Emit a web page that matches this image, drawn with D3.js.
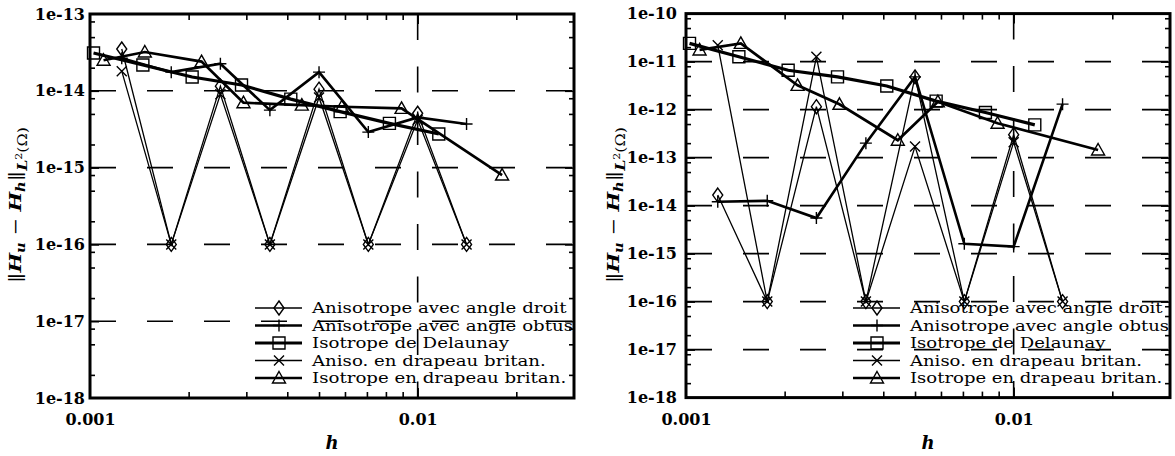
<!DOCTYPE html>
<html>
<head>
<meta charset="utf-8">
<script src="https://cdn.jsdelivr.net/npm/d3@7"></script>
<style>
  body { margin: 0; background: #fff; }
  svg { display: block; }
</style>
</head>
<body>
<svg id="fig" width="1175" height="456"></svg>
<script>
// Mesh sizes h for each family of meshes
const hAniso      = [0.00125, 0.00177, 0.0025, 0.00354, 0.005, 0.00707, 0.01, 0.0141];
const hDelaunay   = [0.001025, 0.00145, 0.00205, 0.0029, 0.0041, 0.0058, 0.0082, 0.0116];
const hBritanIso  = [0.0011, 0.00147, 0.00219, 0.00294, 0.00443, 0.00587, 0.00893, 0.0181];

// Left panel: error norms
const leftDroit      = [3.5e-14, 1e-16, 1.15e-14, 1e-16, 1.05e-14, 1e-16, 5.1e-15, 1e-16];
const leftObtus      = [2.65e-14, 1.75e-14, 2.25e-14, 5.6e-15, 1.75e-14, 2.9e-15, 4.5e-15, 3.7e-15];
const leftDelaunay   = [3.1e-14, 2.17e-14, 1.51e-14, 1.19e-14, 7.8e-15, 5.35e-15, 3.77e-15, 2.74e-15];
const leftBritanAni  = [1.8e-14, 1e-16, 9e-15, 1e-16, 8.2e-15, 1e-16, 4.2e-15, 1e-16];
const leftBritanIso  = [2.5e-14, 3.2e-14, 2.4e-14, 7.0e-15, 6.5e-15, 6.2e-15, 5.9e-15, 8.0e-16];

// Right panel: error norms
const rightDroit     = [1.66e-14, 1e-16, 1.15e-12, 1e-16, 4.8e-12, 1e-16, 3.0e-13, 1e-16];
const rightObtus     = [1.2e-14, 1.26e-14, 5.5e-15, 2.0e-13, 4.8e-12, 1.6e-15, 1.4e-15, 1.3e-12];
const rightDelaunay  = [2.4e-11, 1.26e-11, 6.6e-12, 4.8e-12, 3.1e-12, 1.5e-12, 8.7e-13, 4.8e-13];
const rightBritanAni = [2.2e-11, 1e-16, 1.26e-11, 1e-16, 1.7e-13, 1e-16, 2.1e-13, 1e-16];
const rightBritanIso = [1.75e-11, 2.4e-11, 3.2e-12, 1.29e-12, 2.3e-13, 1.46e-12, 5.2e-13, 1.44e-13];

// Legend entries
const seriesNames = [
  "Anisotrope avec angle droit",
  "Anisotrope avec angle obtus",
  "Isotrope de Delaunay",
  "Aniso. en drapeau britan.",
  "Isotrope en drapeau britan."
];

// Axis ticks
const xTickValues = [0.001, 0.01];
const xTickLabels = ["0.001", "0.01"];
const leftYTicks   = [1e-18, 1e-17, 1e-16, 1e-15, 1e-14, 1e-13];
const leftYLabels  = ["1e-18", "1e-17", "1e-16", "1e-15", "1e-14", "1e-13"];
const rightYTicks  = [1e-18, 1e-17, 1e-16, 1e-15, 1e-14, 1e-13, 1e-12, 1e-11, 1e-10];
const rightYLabels = ["1e-18", "1e-17", "1e-16", "1e-15", "1e-14", "1e-13", "1e-12", "1e-11", "1e-10"];

// ---------------------------------------------------------------------
const svg = d3.select("#fig");
const SERIF = "'DejaVu Serif', 'Liberation Serif', serif";

// Marker glyphs, centred on the point
const markerPath = {
  diamond:  "M0,-7L5,0L0,7L-5,0Z",
  plus:     "M-6,0H6M0,-6V6",
  square:   "M-6,-6H6V6H-6Z",
  cross:    "M-5,-5L5,5M-5,5L5,-5",
  triangle: "M0,-6.5L6.5,5L-6.5,5Z"
};
const styles = [
  { marker: "diamond",  width: 1.3 },
  { marker: "plus",     width: 2.6 },
  { marker: "square",   width: 3.2 },
  { marker: "cross",    width: 1.3 },
  { marker: "triangle", width: 2.7 }
];

function drawPanel(cfg) {
  const g = svg.append("g");
  const x = d3.scaleLog().domain([0.001, 0.03]).range([cfg.x0, cfg.x1]);
  const y = d3.scaleLog().domain([cfg.yTicks[0], cfg.yTicks[cfg.yTicks.length - 1]]).range([cfg.y1, cfg.y0]);

  // dashed grid
  const inner = cfg.yTicks.slice(1, -1);
  g.append("g").selectAll("line").data(inner).join("line")
    .attr("x1", cfg.x0).attr("x2", cfg.x1)
    .attr("y1", d => y(d)).attr("y2", d => y(d))
    .attr("stroke", "#000").attr("stroke-width", 1.6)
    .attr("stroke-dasharray", "26,31");
  g.append("line")
    .attr("x1", x(0.01)).attr("x2", x(0.01))
    .attr("y1", cfg.y0).attr("y2", cfg.y1)
    .attr("stroke", "#000").attr("stroke-width", 1.6)
    .attr("stroke-dasharray", "26,26.5");

  // minor / major ticks (inward) on all four sides
  const xMinor = [];
  [0.001, 0.01].forEach(d => { for (let k = 2; k <= 9; k++) { const v = d * k; if (v < 0.03 - 1e-9) xMinor.push(v); } });
  const yMinor = [];
  cfg.yTicks.slice(0, -1).forEach(d => [2, 5, 8].forEach(k => yMinor.push(d * k)));

  const tickStyle = sel => {
    sel.select(".domain").remove();
    sel.selectAll("line").attr("stroke", "#000").attr("stroke-width", 1.6);
    sel.selectAll("text").remove();
  };
  const addAxis = (axis, tx, ty) => g.append("g").attr("transform", `translate(${tx},${ty})`).call(axis).call(tickStyle);

  addAxis(d3.axisBottom(x).tickValues(xMinor).tickSize(-6), 0, cfg.y1);
  addAxis(d3.axisTop(x).tickValues(xMinor).tickSize(-6), 0, cfg.y0);
  addAxis(d3.axisBottom(x).tickValues([0.01]).tickSize(-10), 0, cfg.y1);
  addAxis(d3.axisTop(x).tickValues([0.01]).tickSize(-10), 0, cfg.y0);
  addAxis(d3.axisLeft(y).tickValues(yMinor).tickSize(-5), cfg.x0, 0);
  addAxis(d3.axisRight(y).tickValues(yMinor).tickSize(-5), cfg.x1, 0);
  addAxis(d3.axisLeft(y).tickValues(inner).tickSize(-9), cfg.x0, 0);
  addAxis(d3.axisRight(y).tickValues(inner).tickSize(-9), cfg.x1, 0);

  // tick labels
  const yLab = g.append("g").attr("transform", `translate(${cfg.x0},0)`)
    .call(d3.axisLeft(y).tickValues(cfg.yTicks).tickSize(0).tickPadding(cfg.yPad)
      .tickFormat((d, i) => cfg.yLabels[i]));
  yLab.select(".domain").remove();
  yLab.selectAll("text").attr("font-family", SERIF).attr("font-weight", "bold")
    .attr("font-size", 16).attr("fill", "#000");

  const xLab = g.append("g").attr("transform", `translate(0,${cfg.y1})`)
    .call(d3.axisBottom(x).tickValues(xTickValues).tickSize(0).tickPadding(16)
      .tickFormat((d, i) => xTickLabels[i]));
  xLab.select(".domain").remove();
  xLab.selectAll("text").attr("font-family", SERIF).attr("font-weight", "bold")
    .attr("font-size", 16).attr("fill", "#000");

  // series
  const line = d3.line().x(d => x(d[0])).y(d => y(d[1]));
  cfg.series.forEach((s, i) => {
    const pts = s.h.map((h, k) => [h, s.v[k]]);
    const st = styles[i];
    g.append("path").datum(pts).attr("d", line)
      .attr("fill", "none").attr("stroke", "#000")
      .attr("stroke-width", st.width).attr("stroke-linejoin", "miter");
    g.append("g").selectAll("path").data(pts).join("path")
      .attr("transform", d => `translate(${x(d[0])},${y(d[1])})`)
      .attr("d", markerPath[st.marker])
      .attr("fill", "none").attr("stroke", "#000").attr("stroke-width", 1.4);
  });

  // frame
  g.append("rect")
    .attr("x", cfg.x0).attr("y", cfg.y0)
    .attr("width", cfg.x1 - cfg.x0).attr("height", cfg.y1 - cfg.y0)
    .attr("fill", "none").attr("stroke", "#000").attr("stroke-width", 3);

  // legend
  const leg = g.append("g");
  const rows = leg.selectAll("g").data(seriesNames).join("g")
    .attr("transform", (d, i) => `translate(${cfg.legX},${308 + 17.5 * i})`);
  rows.append("line").attr("x1", 0).attr("x2", 47).attr("y1", 0).attr("y2", 0)
    .attr("stroke", "#000").attr("stroke-width", (d, i) => styles[i].width);
  rows.append("path").attr("transform", "translate(24,0)")
    .attr("d", (d, i) => markerPath[styles[i].marker])
    .attr("fill", "none").attr("stroke", "#000").attr("stroke-width", 1.4);
  const txt = rows.append("text").attr("x", 57).attr("y", 5)
    .attr("font-family", SERIF).attr("font-size", 15).attr("fill", "#000")
    .text(d => d);
  // stretch the legend text horizontally to the legend's width
  const widths = txt.nodes().map(n => n.getComputedTextLength());
  const sx = cfg.legW / widths[1];
  txt.attr("textLength", (d, i) => widths[i] * sx).attr("lengthAdjust", "spacingAndGlyphs");

  // axis titles
  g.append("text").attr("x", (cfg.x0 + cfg.x1) / 2).attr("y", 449)
    .attr("text-anchor", "middle").attr("font-family", SERIF)
    .attr("font-style", "italic").attr("font-weight", "bold").attr("font-size", 18)
    .text("h");

  const labG = g.append("g").attr("transform", `translate(${cfg.labX},205) rotate(-90)`);
  const lab = labG.append("text")
    .attr("text-anchor", "middle").attr("font-family", SERIF).attr("font-size", 17);
  lab.append("tspan").text("‖");
  lab.append("tspan").attr("font-style", "italic").attr("font-weight", "bold").text("H");
  lab.append("tspan").attr("dy", 4).attr("font-size", 12).attr("font-style", "italic").attr("font-weight", "bold").text("u");
  lab.append("tspan").attr("dy", -4).text(" − ");
  lab.append("tspan").attr("font-style", "italic").attr("font-weight", "bold").text("H");
  lab.append("tspan").attr("dy", 4).attr("font-size", 12).attr("font-style", "italic").attr("font-weight", "bold").text("h");
  lab.append("tspan").attr("dy", -4).text("‖");
  lab.append("tspan").attr("dy", 6).attr("font-size", 13).attr("font-style", "italic").attr("font-weight", "bold").text("L");
  lab.append("tspan").attr("dy", -5).attr("font-size", 9).text("2");
  lab.append("tspan").attr("dy", 5).attr("font-size", 13).text("(Ω)");
  // widen the title along its reading direction
  const labLen = lab.node().getComputedTextLength();
  lab.attr("transform", `scale(${156 / labLen},1)`);
}

drawPanel({
  x0: 90, x1: 574, y0: 14, y1: 398, yPad: 5, legX: 255, legW: 261, labX: 21,
  yTicks: leftYTicks, yLabels: leftYLabels,
  series: [
    { h: hAniso, v: leftDroit },
    { h: hAniso, v: leftObtus },
    { h: hDelaunay, v: leftDelaunay },
    { h: hAniso, v: leftBritanAni },
    { h: hBritanIso, v: leftBritanIso }
  ]
});

drawPanel({
  x0: 686, x1: 1170, y0: 13.6, y1: 397.6, yPad: 9, legX: 853, legW: 259, labX: 619,
  yTicks: rightYTicks, yLabels: rightYLabels,
  series: [
    { h: hAniso, v: rightDroit },
    { h: hAniso, v: rightObtus },
    { h: hDelaunay, v: rightDelaunay },
    { h: hAniso, v: rightBritanAni },
    { h: hBritanIso, v: rightBritanIso }
  ]
});
</script>
</body>
</html>
